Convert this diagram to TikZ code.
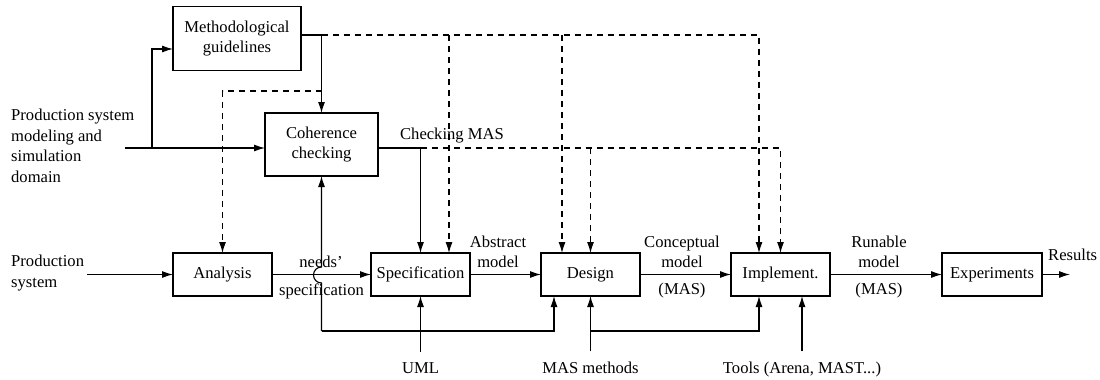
\documentclass[tikz,border=0pt]{standalone}
\usepackage{fontspec}
\setmainfont{Liberation Serif}
\usetikzlibrary{arrows.meta, positioning}

\begin{document}
\begin{tikzpicture}[x=1pt, y=-1pt, node distance=99pt, font=\fontsize{16.6}{20.5}\selectfont]
\tikzstyle{block} = [rectangle, draw, line width=1.1pt, outer sep=0pt, text centered, align=center, minimum width=99pt, minimum height=43pt, inner sep=2pt]
\tikzstyle{line} = [draw, line width=1.1pt, -{Latex[length=11pt,width=7pt]}]
\tikzstyle{dline} = [line, dash pattern=on 6pt off 5pt]
\tikzstyle{lbl} = [align=center, inner sep=0pt]
\tikzstyle{src} = [anchor=base, inner sep=10pt]

\useasboundingbox (0,0) rectangle (1100,380);

\node [block, minimum width=128pt, minimum height=64pt] (meth) at (237,38.5) {Methodological\\guidelines};
\node [block, minimum width=113pt, minimum height=63pt] (coh) at (321.5,144.5) {Coherence\\checking};
\node [block] (ana) at (222.5,274.5) {Analysis};
\node [block, right=of ana] (spec) {Specification};
\node [block, right=71pt of spec] (des) {Design};
\node [block, right=91pt of des] (imp) {Implement.};
\node [block, right=112pt of imp, minimum width=100pt] (exp) {Experiments};

\node [lbl, anchor=west, align=left] (dom) at (11,146) {Production system\\modeling and\\simulation\\domain};
\node [lbl, anchor=west, align=left, inner sep=3pt] (prod) at (8,273) {Production\\system};
\node [src] (uml) at (420.5,373) {UML};
\node [src] (mas) at (590.5,373) {MAS methods};
\node [src] (tools) at (802,373) {Tools (Arena, MAST...)};

\node [lbl] (chk) at (452,136) {Checking MAS};
\node [lbl] (needs) at (321,262) {needs'};
\node [lbl] (specl) at (321.5,291) {specification};
\node [lbl] (abs) at (498,252) {Abstract\\model};
\node [lbl] (conc) at (682,252) {Conceptual\\model};
\node [lbl] (mas1) at (682,291) {(MAS)};
\node [lbl] (run) at (879,252) {Runable\\model};
\node [lbl] (mas2) at (879,291) {(MAS)};
\node [lbl, anchor=west] (resl) at (1048,255) {Results};

% junction points
\coordinate (domin) at (125,148);
\coordinate (split) at (152,148);
\coordinate (mo) at (321.5,35);
\coordinate (mc) at (321.5,91);
\coordinate (co) at (420.5,148);
\coordinate (fb) at (321.5,331);
\coordinate (res) at (1070,274.5);
\coordinate (sd) at ([xshift=28.5pt]spec.north);
\coordinate (dd1) at ([xshift=-28.5pt]des.north);
\coordinate (dd2) at ([xshift=-36.5pt]des.south);
\coordinate (id1) at ([xshift=-21.5pt]imp.north);
\coordinate (id2) at ([xshift=-21.5pt]imp.south);
\coordinate (mj) at (des.south |- fb);

% domain inputs
\path [line] (domin) -- (domin -| coh.west);
\path [line] (split) |- ([yshift=-10.5pt]meth.west);
\draw [line width=1.1pt] (meth.east |- mo) -- (mo);
\path [line] (mo) -- (coh.north);
\path [dline] (mo) -| (id1);
\path [dline] (sd |- mo) -- (sd);
\path [dline] (dd1 |- mo) -- (dd1);
\path [dline] (mc) -| (ana.north);

% checking MAS
\draw [line width=1.1pt] (coh.east |- co) -- (co);
\path [line] (co) -- (spec.north);
\path [dline] (co) -| (imp.north);
\path [dline] (des.north |- co) -- (des.north);

% main chain
\path [line] (prod.east |- ana) -- (ana);
\path [line] (ana) -- (spec);
\path [line] (spec) -- (des);
\path [line] (des) -- (imp);
\path [line] (imp) -- (exp);
\path [line] (exp) -- (res);

% feedback and tools
\path [line] (fb) -- ++(0,-48) arc[start angle=-90, end angle=-270, radius=8pt] -- (coh.south);
\path [line] (fb) -| (dd2);
\path [line] (uml.north) -- (spec.south);
\path [line] (mas.north) -- (des.south);
\path [line] (mj) -| (id2);
\path [line] (tools.north) -- (tools.north |- imp.south);

\end{tikzpicture}
\end{document}
